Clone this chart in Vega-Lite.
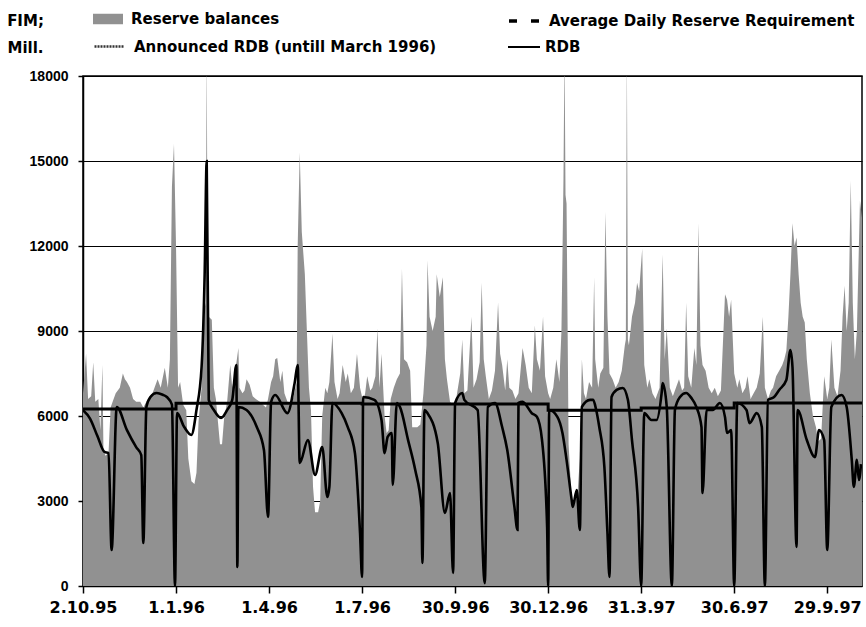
{
  "$schema": "https://vega.github.io/schema/vega-lite/v6.json",
  "width": 779,
  "height": 510,
  "autosize": "none",
  "padding": {"left": 83, "top": 76, "right": 4, "bottom": 41},
  "background": "#ffffff",
  "datasets": {
    "rb": [
      {"day":0,"value":6800},{"day":3,"value":8200},{"day":5,"value":6600},{"day":8,"value":6700},{"day":10,"value":7900},{"day":12,"value":6500},{"day":15,"value":6600},{"day":17,"value":5500},{"day":19,"value":7800},{"day":20,"value":4800},{"day":22,"value":4600},{"day":25,"value":4700},{"day":27,"value":6300},{"day":29,"value":6500},{"day":32,"value":6800},{"day":36,"value":7000},{"day":39,"value":7500},{"day":41,"value":7300},{"day":43,"value":7200},{"day":46,"value":7000},{"day":49,"value":6600},{"day":52,"value":6500},{"day":56,"value":6500},{"day":59,"value":6300},{"day":62,"value":6500},{"day":65,"value":6700},{"day":68,"value":6800},{"day":71,"value":7100},{"day":73,"value":7300},{"day":76,"value":7000},{"day":80,"value":7700},{"day":83,"value":7000},{"day":85,"value":8000},{"day":87,"value":14100},{"day":89,"value":15600},{"day":91,"value":12000},{"day":93,"value":7000},{"day":95,"value":7200},{"day":98,"value":6400},{"day":101,"value":6200},{"day":103,"value":4500},{"day":106,"value":3700},{"day":109,"value":3600},{"day":111,"value":4000},{"day":113,"value":5800},{"day":116,"value":7000},{"day":119,"value":9800},{"day":120,"value":10000},{"day":121,"value":19000},{"day":122,"value":9600},{"day":123,"value":9500},{"day":126,"value":9400},{"day":128,"value":7000},{"day":130,"value":6600},{"day":132,"value":5800},{"day":134,"value":5000},{"day":136,"value":5000},{"day":138,"value":5900},{"day":141,"value":6500},{"day":144,"value":7800},{"day":146,"value":7000},{"day":149,"value":7600},{"day":152,"value":8400},{"day":153,"value":7000},{"day":156,"value":6800},{"day":158,"value":6900},{"day":160,"value":7300},{"day":163,"value":7100},{"day":166,"value":6700},{"day":169,"value":6600},{"day":173,"value":6500},{"day":176,"value":6400},{"day":179,"value":6300},{"day":181,"value":6600},{"day":184,"value":7200},{"day":186,"value":7400},{"day":188,"value":8000},{"day":190,"value":8050},{"day":193,"value":7200},{"day":195,"value":7600},{"day":197,"value":6800},{"day":200,"value":6500},{"day":203,"value":6300},{"day":206,"value":6700},{"day":209,"value":7200},{"day":210,"value":12000},{"day":212,"value":15300},{"day":214,"value":12500},{"day":217,"value":11000},{"day":219,"value":9000},{"day":221,"value":7000},{"day":223,"value":6200},{"day":225,"value":3500},{"day":227,"value":2600},{"day":230,"value":2600},{"day":232,"value":3000},{"day":234,"value":6000},{"day":237,"value":7000},{"day":239,"value":6800},{"day":241,"value":7200},{"day":244,"value":8900},{"day":246,"value":7200},{"day":249,"value":6600},{"day":251,"value":6800},{"day":254,"value":7800},{"day":257,"value":7200},{"day":259,"value":7500},{"day":262,"value":6800},{"day":265,"value":7000},{"day":268,"value":8200},{"day":271,"value":7000},{"day":274,"value":6500},{"day":276,"value":6800},{"day":278,"value":7400},{"day":281,"value":6900},{"day":283,"value":7000},{"day":286,"value":7400},{"day":288,"value":9100},{"day":290,"value":7000},{"day":292,"value":8200},{"day":295,"value":6000},{"day":297,"value":5400},{"day":299,"value":5500},{"day":301,"value":6600},{"day":304,"value":7000},{"day":307,"value":7300},{"day":310,"value":7500},{"day":312,"value":11200},{"day":314,"value":8000},{"day":317,"value":7900},{"day":320,"value":7600},{"day":322,"value":5600},{"day":325,"value":5600},{"day":327,"value":5600},{"day":330,"value":5700},{"day":333,"value":6800},{"day":336,"value":8500},{"day":337,"value":11500},{"day":339,"value":9500},{"day":342,"value":9000},{"day":345,"value":9500},{"day":346,"value":11000},{"day":349,"value":10200},{"day":352,"value":10900},{"day":354,"value":8000},{"day":356,"value":7300},{"day":359,"value":6500},{"day":362,"value":6400},{"day":365,"value":6600},{"day":369,"value":7500},{"day":371,"value":8700},{"day":373,"value":6800},{"day":376,"value":6900},{"day":380,"value":9500},{"day":382,"value":7000},{"day":385,"value":7300},{"day":388,"value":7900},{"day":390,"value":10700},{"day":392,"value":8000},{"day":394,"value":7400},{"day":397,"value":6600},{"day":400,"value":6900},{"day":403,"value":7600},{"day":406,"value":10000},{"day":408,"value":8200},{"day":410,"value":7800},{"day":413,"value":6900},{"day":415,"value":8000},{"day":417,"value":7000},{"day":420,"value":6900},{"day":423,"value":6600},{"day":426,"value":6800},{"day":430,"value":8400},{"day":433,"value":7800},{"day":436,"value":7000},{"day":439,"value":6800},{"day":442,"value":9200},{"day":444,"value":8000},{"day":447,"value":7600},{"day":450,"value":9500},{"day":452,"value":7400},{"day":455,"value":6800},{"day":457,"value":6600},{"day":460,"value":7000},{"day":463,"value":8000},{"day":466,"value":7200},{"day":468,"value":9000},{"day":470,"value":14400},{"day":471,"value":19000},{"day":472,"value":13800},{"day":473,"value":13500},{"day":475,"value":5000},{"day":478,"value":3000},{"day":481,"value":3000},{"day":484,"value":3400},{"day":486,"value":4500},{"day":488,"value":8000},{"day":490,"value":6800},{"day":492,"value":6600},{"day":495,"value":7200},{"day":498,"value":7000},{"day":500,"value":10900},{"day":501,"value":8000},{"day":504,"value":7000},{"day":506,"value":7500},{"day":509,"value":7700},{"day":511,"value":13200},{"day":513,"value":9500},{"day":515,"value":7500},{"day":518,"value":7300},{"day":521,"value":7000},{"day":524,"value":7200},{"day":527,"value":7600},{"day":530,"value":8500},{"day":531,"value":8700},{"day":532,"value":19000},{"day":533,"value":8700},{"day":534,"value":8500},{"day":537,"value":9500},{"day":540,"value":10000},{"day":542,"value":10700},{"day":544,"value":10400},{"day":547,"value":11900},{"day":549,"value":7800},{"day":552,"value":7000},{"day":554,"value":7300},{"day":557,"value":6800},{"day":560,"value":6600},{"day":564,"value":7000},{"day":567,"value":11700},{"day":569,"value":8000},{"day":571,"value":9100},{"day":574,"value":7000},{"day":577,"value":6700},{"day":580,"value":7000},{"day":583,"value":7300},{"day":586,"value":6900},{"day":588,"value":7000},{"day":590,"value":10000},{"day":592,"value":7400},{"day":595,"value":7000},{"day":598,"value":8400},{"day":600,"value":7800},{"day":602,"value":12800},{"day":604,"value":8500},{"day":606,"value":7800},{"day":609,"value":7600},{"day":612,"value":7000},{"day":615,"value":6800},{"day":618,"value":7000},{"day":621,"value":6700},{"day":624,"value":6900},{"day":628,"value":10300},{"day":630,"value":10100},{"day":632,"value":9500},{"day":634,"value":10100},{"day":637,"value":7500},{"day":640,"value":7000},{"day":642,"value":7300},{"day":645,"value":6800},{"day":648,"value":7000},{"day":650,"value":7400},{"day":653,"value":6600},{"day":656,"value":6800},{"day":659,"value":7000},{"day":662,"value":7500},{"day":665,"value":9500},{"day":667,"value":7000},{"day":670,"value":6600},{"day":673,"value":6900},{"day":675,"value":7000},{"day":678,"value":7400},{"day":681,"value":7600},{"day":684,"value":7800},{"day":686,"value":8000},{"day":688,"value":8300},{"day":690,"value":9500},{"day":692,"value":11000},{"day":694,"value":12800},{"day":696,"value":12000},{"day":698,"value":12300},{"day":700,"value":11000},{"day":702,"value":10000},{"day":704,"value":9500},{"day":706,"value":9300},{"day":708,"value":8000},{"day":711,"value":6800},{"day":714,"value":6000},{"day":717,"value":5600},{"day":719,"value":5100},{"day":722,"value":5200},{"day":725,"value":7400},{"day":728,"value":6600},{"day":730,"value":7000},{"day":732,"value":8700},{"day":735,"value":7000},{"day":738,"value":6700},{"day":741,"value":7600},{"day":743,"value":9500},{"day":745,"value":10600},{"day":747,"value":9000},{"day":749,"value":10000},{"day":751,"value":14300},{"day":753,"value":10000},{"day":755,"value":8000},{"day":757,"value":9000},{"day":760,"value":13600},{"day":762,"value":13000}
    ],
    "rdb": [
      {"day":0,"value":6200},{"day":7,"value":5900},{"day":14,"value":5300},{"day":21,"value":4730},{"day":25,"value":4690},{"day":28,"value":1270},{"day":33,"value":6320},{"day":43,"value":5500},{"day":52,"value":4900},{"day":57,"value":4620},{"day":59,"value":1520},{"day":62,"value":6320},{"day":66,"value":6670},{"day":72,"value":6810},{"day":78,"value":6750},{"day":82,"value":6670},{"day":87,"value":6400},{"day":90,"value":0},{"day":92,"value":6100},{"day":99,"value":5610},{"day":106,"value":5330},{"day":111,"value":6210},{"day":116,"value":7730},{"day":119,"value":11000},{"day":121,"value":15000},{"day":123,"value":6570},{"day":128,"value":6210},{"day":135,"value":5930},{"day":141,"value":6210},{"day":146,"value":6570},{"day":150,"value":7800},{"day":151,"value":670},{"day":152,"value":6320},{"day":160,"value":6210},{"day":170,"value":5610},{"day":177,"value":4800},{"day":181,"value":2440},{"day":184,"value":6500},{"day":188,"value":6740},{"day":200,"value":6100},{"day":207,"value":7160},{"day":210,"value":7800},{"day":212,"value":4340},{"day":220,"value":5150},{"day":227,"value":3920},{"day":234,"value":4900},{"day":239,"value":3140},{"day":241,"value":3500},{"day":244,"value":6460},{"day":253,"value":6100},{"day":259,"value":5610},{"day":266,"value":4690},{"day":271,"value":1870},{"day":273,"value":320},{"day":274,"value":6670},{"day":285,"value":6570},{"day":292,"value":5860},{"day":295,"value":4690},{"day":298,"value":5260},{"day":302,"value":5400},{"day":303,"value":3570},{"day":307,"value":6460},{"day":310,"value":6320},{"day":318,"value":5150},{"day":325,"value":4090},{"day":331,"value":2790},{"day":332,"value":810},{"day":334,"value":6210},{"day":337,"value":6100},{"day":347,"value":5050},{"day":354,"value":2580},{"day":359,"value":3280},{"day":362,"value":460},{"day":364,"value":6460},{"day":371,"value":6810},{"day":373,"value":6570},{"day":386,"value":6210},{"day":393,"value":100},{"day":396,"value":6320},{"day":403,"value":6460},{"day":410,"value":5610},{"day":415,"value":4800},{"day":422,"value":2790},{"day":425,"value":1980},{"day":426,"value":6460},{"day":430,"value":6500},{"day":439,"value":6100},{"day":444,"value":5970},{"day":449,"value":5150},{"day":454,"value":2080},{"day":455,"value":0},{"day":456,"value":6210},{"day":464,"value":5970},{"day":469,"value":5400},{"day":473,"value":4450},{"day":478,"value":3040},{"day":479,"value":2790},{"day":483,"value":3390},{"day":486,"value":1980},{"day":488,"value":6320},{"day":496,"value":6570},{"day":499,"value":6570},{"day":502,"value":6210},{"day":505,"value":5610},{"day":510,"value":4200},{"day":513,"value":1870},{"day":515,"value":320},{"day":517,"value":6670},{"day":522,"value":6920},{"day":528,"value":6990},{"day":533,"value":6570},{"day":537,"value":5150},{"day":543,"value":2790},{"day":546,"value":0},{"day":549,"value":6100},{"day":556,"value":5860},{"day":561,"value":5860},{"day":566,"value":6810},{"day":567,"value":7160},{"day":571,"value":6320},{"day":576,"value":0},{"day":579,"value":6210},{"day":584,"value":6670},{"day":590,"value":6810},{"day":595,"value":6640},{"day":600,"value":6320},{"day":605,"value":5610},{"day":606,"value":3280},{"day":610,"value":6210},{"day":616,"value":6210},{"day":623,"value":6460},{"day":628,"value":5960},{"day":630,"value":5400},{"day":634,"value":5500},{"day":637,"value":0},{"day":640,"value":6460},{"day":649,"value":6210},{"day":652,"value":5750},{"day":659,"value":6100},{"day":664,"value":5610},{"day":667,"value":0},{"day":670,"value":6570},{"day":676,"value":6670},{"day":681,"value":6920},{"day":688,"value":7270},{"day":692,"value":8330},{"day":694,"value":7730},{"day":698,"value":1380},{"day":699,"value":6210},{"day":708,"value":5150},{"day":716,"value":4550},{"day":720,"value":5500},{"day":725,"value":5150},{"day":728,"value":1270},{"day":732,"value":6320},{"day":742,"value":6740},{"day":747,"value":6320},{"day":752,"value":4450},{"day":754,"value":3500},{"day":757,"value":4450},{"day":759,"value":3740},{"day":761,"value":4300}
    ],
    "req": [
      {"day":0,"value":6250},{"day":91,"value":6450},{"day":273,"value":6420},{"day":455,"value":6200},{"day":546,"value":6280},{"day":637,"value":6460},{"day":762,"value":6460}
    ],
    "ann": [
      {"day":0,"value":6250},{"day":91,"value":6450},{"day":182,"value":6450}
    ]
  },
  "encoding": {
    "x": {
      "field": "day",
      "type": "quantitative",
      "scale": {"domain": [0, 762], "nice": false, "zero": false},
      "axis": {
        "title": null,
        "grid": false,
        "values": [0, 91, 182, 273, 364, 455, 546, 637, 728],
        "labelExpr": "timeFormat(datetime(1995, 9, 2 + datum.value), '%-d.%-m.%y')",
        "labelFont": "DejaVu Sans",
        "labelFontWeight": "bold",
        "labelFontSize": 16,
        "labelColor": "#000000",
        "labelPadding": 6,
        "labelOverlap": false,
        "labelFlush": false,
        "tickSize": 7,
        "tickColor": "#000000",
        "tickWidth": 1.5,
        "domainColor": "#000000",
        "domainWidth": 1.5
      }
    },
    "y": {
      "field": "value",
      "type": "quantitative",
      "scale": {"domain": [0, 18000], "nice": false},
      "axis": {
        "values": [0, 3000, 6000, 9000, 12000, 15000, 18000],
        "format": "d",
        "grid": true,
        "gridColor": "#000000",
        "gridWidth": 1.2,
        "gridOpacity": 1,
        "domainColor": "#000000",
        "domainWidth": 1.5,
        "tickColor": "#000000",
        "tickSize": 5,
        "tickWidth": 1.5,
        "labelFont": "Liberation Sans",
        "labelFontWeight": "bold",
        "labelFontSize": 14,
        "labelColor": "#000000",
        "labelPadding": 10,
        "title": ["FIM;", "Mill."],
        "titleAngle": 0,
        "titleAlign": "center",
        "titleBaseline": "top",
        "titleX": -58,
        "titleY": -63,
        "titleFont": "DejaVu Sans",
        "titleFontWeight": "bold",
        "titleFontSize": 15,
        "titleLineHeight": 27,
        "titleColor": "#000000"
      }
    }
  },
  "layer": [
    {
      "data": {"name": "rb"},
      "mark": {"type": "area", "clip": true, "interpolate": "linear", "opacity": 1},
      "encoding": {
        "color": {
          "datum": "Reserve balances",
          "type": "nominal",
          "scale": {"domain": ["Reserve balances"], "range": ["#919191"]},
          "legend": {
            "title": null,
            "orient": "none",
            "legendX": 10,
            "legendY": -72,
            "padding": 0,
            "symbolType": "M-1,-0.35H1V0.35H-1Z",
            "symbolSize": 900,
            "symbolStrokeWidth": 0,
            "symbolOpacity": 1,
            "labelOffset": 8,
            "labelLimit": 500,
            "labelFont": "DejaVu Sans",
            "labelFontWeight": "bold",
            "labelFontSize": 15,
            "labelColor": "#000000"
          }
        }
      }
    },
    {
      "data": {"name": "ann"},
      "mark": {"type": "line", "interpolate": "step-after", "strokeWidth": 1.5, "strokeDash": [2, 1]},
      "encoding": {
        "color": {
          "datum": "Announced RDB (untill March 1996)",
          "type": "nominal",
          "scale": {"domain": ["Announced RDB (untill March 1996)"], "range": ["#333333"]},
          "legend": {
            "title": null,
            "orient": "none",
            "legendX": 10,
            "legendY": -46,
            "padding": 0,
            "symbolType": "stroke",
            "symbolSize": 900,
            "symbolDash": [2, 1],
            "symbolStrokeWidth": 2.5,
            "labelOffset": 8,
            "labelLimit": 500,
            "labelFont": "DejaVu Sans",
            "labelFontWeight": "bold",
            "labelFontSize": 15,
            "labelColor": "#000000"
          }
        }
      }
    },
    {
      "data": {"name": "req"},
      "mark": {"type": "line", "interpolate": "step-after", "strokeWidth": 3},
      "encoding": {
        "color": {
          "datum": "Average Daily Reserve Requirement",
          "type": "nominal",
          "scale": {"domain": ["Average Daily Reserve Requirement"], "range": ["#000000"]},
          "legend": {
            "title": null,
            "orient": "none",
            "legendX": 424,
            "legendY": -72,
            "padding": 0,
            "symbolType": "stroke",
            "symbolSize": 900,
            "symbolDash": [8, 14],
            "symbolStrokeWidth": 3.5,
            "labelOffset": 8,
            "labelLimit": 500,
            "labelFont": "DejaVu Sans",
            "labelFontWeight": "bold",
            "labelFontSize": 15,
            "labelColor": "#000000"
          }
        }
      }
    },
    {
      "data": {"name": "rdb"},
      "mark": {"type": "line", "interpolate": "monotone", "strokeWidth": 2.6, "clip": true},
      "encoding": {
        "color": {
          "datum": "RDB",
          "type": "nominal",
          "scale": {"domain": ["RDB"], "range": ["#000000"]},
          "legend": {
            "title": null,
            "orient": "none",
            "legendX": 424,
            "legendY": -46,
            "padding": 0,
            "symbolType": "stroke",
            "symbolSize": 1024,
            "symbolStrokeWidth": 2,
            "labelOffset": 4,
            "labelLimit": 500,
            "labelFont": "DejaVu Sans",
            "labelFontWeight": "bold",
            "labelFontSize": 15,
            "labelColor": "#000000"
          }
        }
      }
    }
  ],
  "resolve": {"scale": {"color": "independent"}, "legend": {"color": "independent"}},
  "config": {
    "view": {"stroke": "#000000", "strokeWidth": 1.5},
    "font": "DejaVu Sans"
  }
}
